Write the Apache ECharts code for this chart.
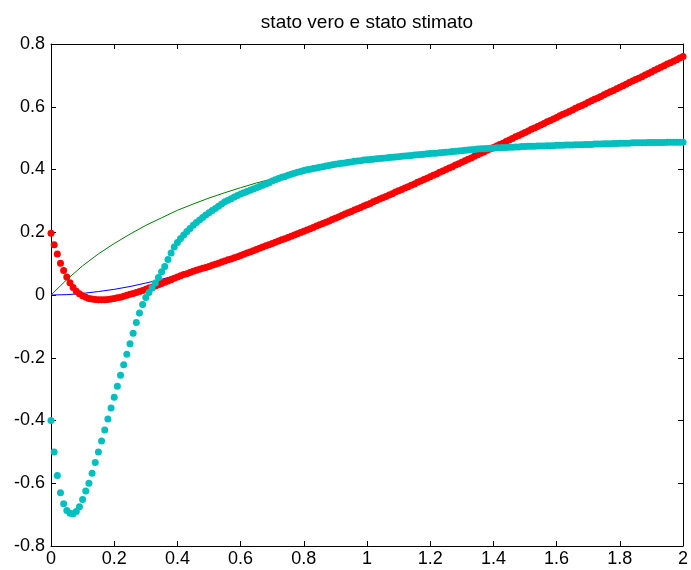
<!DOCTYPE html>
<html>
<head>
    <meta charset="UTF-8">
    <title>stato vero e stato stimato</title>
    <script src="https://cdn.jsdelivr.net/npm/echarts@6/dist/echarts.min.js"></script>
    <style>
        html, body { margin: 0; padding: 0; background: #fff; }
        #chart { width: 691px; height: 570px; }
    </style>
</head>
<body>
<div id="chart"></div>
<script>
// sample times of the estimates (dt = 0.01)
var tEst = [
 0.00,0.01,0.02,0.03,0.04,0.05,0.06,0.07,0.08,0.09,
 0.10,0.11,0.12,0.13,0.14,0.15,0.16,0.17,0.18,0.19,
 0.20,0.21,0.22,0.23,0.24,0.25,0.26,0.27,0.28,0.29,
 0.30,0.31,0.32,0.33,0.34,0.35,0.36,0.37,0.38,0.39,
 0.40,0.41,0.42,0.43,0.44,0.45,0.46,0.47,0.48,0.49,
 0.50,0.51,0.52,0.53,0.54,0.55,0.56,0.57,0.58,0.59,
 0.60,0.61,0.62,0.63,0.64,0.65,0.66,0.67,0.68,0.69,
 0.70,0.71,0.72,0.73,0.74,0.75,0.76,0.77,0.78,0.79,
 0.80,0.81,0.82,0.83,0.84,0.85,0.86,0.87,0.88,0.89,
 0.90,0.91,0.92,0.93,0.94,0.95,0.96,0.97,0.98,0.99,
 1.00,1.01,1.02,1.03,1.04,1.05,1.06,1.07,1.08,1.09,
 1.10,1.11,1.12,1.13,1.14,1.15,1.16,1.17,1.18,1.19,
 1.20,1.21,1.22,1.23,1.24,1.25,1.26,1.27,1.28,1.29,
 1.30,1.31,1.32,1.33,1.34,1.35,1.36,1.37,1.38,1.39,
 1.40,1.41,1.42,1.43,1.44,1.45,1.46,1.47,1.48,1.49,
 1.50,1.51,1.52,1.53,1.54,1.55,1.56,1.57,1.58,1.59,
 1.60,1.61,1.62,1.63,1.64,1.65,1.66,1.67,1.68,1.69,
 1.70,1.71,1.72,1.73,1.74,1.75,1.76,1.77,1.78,1.79,
 1.80,1.81,1.82,1.83,1.84,1.85,1.86,1.87,1.88,1.89,
 1.90,1.91,1.92,1.93,1.94,1.95,1.96,1.97,1.98,1.99,
 2.00
];

// estimated state 1 (red dots)
var x1Est = [
 0.197,0.160,0.131,0.101,0.078,0.057,0.039,0.024,0.012,0.004,
 -0.002,-0.007,-0.011,-0.013,-0.014,-0.015,-0.015,-0.015,-0.014,-0.013,
 -0.011,-0.009,-0.007,-0.004,-0.001,0.002,0.005,0.008,0.011,0.014,
 0.018,0.022,0.025,0.029,0.033,0.037,0.041,0.045,0.049,0.053,
 0.057,0.061,0.065,0.068,0.072,0.076,0.079,0.082,0.085,0.088,
 0.091,0.095,0.098,0.101,0.105,0.108,0.112,0.115,0.119,0.122,
 0.126,0.130,0.134,0.137,0.141,0.145,0.149,0.153,0.157,0.160,
 0.164,0.168,0.172,0.176,0.179,0.183,0.187,0.191,0.195,0.199,
 0.203,0.207,0.211,0.215,0.220,0.224,0.228,0.232,0.236,0.241,
 0.245,0.249,0.253,0.258,0.262,0.266,0.271,0.275,0.279,0.284,
 0.288,0.292,0.297,0.301,0.306,0.310,0.314,0.319,0.323,0.328,
 0.332,0.336,0.341,0.345,0.350,0.354,0.359,0.363,0.368,0.372,
 0.377,0.382,0.386,0.391,0.395,0.400,0.405,0.409,0.414,0.418,
 0.423,0.428,0.433,0.437,0.442,0.447,0.452,0.456,0.461,0.465,
 0.470,0.475,0.480,0.484,0.489,0.494,0.499,0.504,0.508,0.513,
 0.518,0.523,0.528,0.532,0.537,0.542,0.547,0.552,0.556,0.561,
 0.566,0.571,0.576,0.580,0.585,0.590,0.595,0.600,0.604,0.609,
 0.614,0.619,0.624,0.628,0.633,0.638,0.643,0.648,0.652,0.657,
 0.662,0.667,0.672,0.677,0.682,0.687,0.691,0.696,0.701,0.706,
 0.711,0.716,0.721,0.726,0.731,0.736,0.740,0.745,0.750,0.755,
 0.760
];

// estimated state 2 (cyan dots)
var x2Est = [
 -0.400,-0.500,-0.575,-0.630,-0.665,-0.687,-0.696,-0.697,-0.690,-0.675,
 -0.652,-0.625,-0.600,-0.568,-0.534,-0.500,-0.465,-0.430,-0.395,-0.360,
 -0.326,-0.291,-0.256,-0.222,-0.189,-0.155,-0.122,-0.088,-0.057,-0.030,
 -0.008,0.008,0.022,0.038,0.056,0.074,0.091,0.113,0.134,0.153,
 0.167,0.180,0.191,0.202,0.212,0.222,0.231,0.239,0.247,0.255,
 0.262,0.269,0.276,0.283,0.290,0.297,0.302,0.307,0.312,0.317,
 0.322,0.326,0.330,0.334,0.338,0.342,0.346,0.350,0.354,0.358,
 0.363,0.367,0.371,0.375,0.378,0.382,0.385,0.388,0.391,0.394,
 0.397,0.399,0.401,0.403,0.405,0.407,0.409,0.411,0.413,0.415,
 0.417,0.418,0.420,0.421,0.423,0.424,0.426,0.427,0.428,0.430,
 0.431,0.432,0.433,0.434,0.435,0.436,0.437,0.438,0.439,0.440,
 0.441,0.442,0.443,0.444,0.445,0.446,0.447,0.448,0.449,0.450,
 0.451,0.452,0.452,0.453,0.454,0.455,0.456,0.457,0.458,0.459,
 0.460,0.461,0.462,0.463,0.464,0.465,0.466,0.466,0.467,0.468,
 0.468,0.469,0.469,0.470,0.470,0.471,0.471,0.472,0.472,0.473,
 0.473,0.474,0.474,0.474,0.475,0.475,0.475,0.476,0.476,0.476,
 0.477,0.477,0.477,0.478,0.478,0.478,0.479,0.479,0.479,0.480,
 0.480,0.480,0.481,0.481,0.481,0.482,0.482,0.482,0.483,0.483,
 0.484,0.484,0.484,0.484,0.485,0.485,0.485,0.485,0.485,0.486,
 0.486,0.486,0.486,0.486,0.486,0.487,0.487,0.487,0.487,0.487,
 0.487
];

// true states, sampled every 0.05
var tTrue = [
 0.00,0.05,0.10,0.15,0.20,0.25,0.30,0.35,0.40,0.45,
 0.50,0.55,0.60,0.65,0.70,0.75,0.80,0.85,0.90,0.95,
 1.00,1.05,1.10,1.15,1.20,1.25,1.30,1.35,1.40,1.45,
 1.50,1.55,1.60,1.65,1.70,1.75,1.80,1.85,1.90,1.95,
 2.00
];
var x1True = [
 0.000,0.001,0.005,0.011,0.018,0.027,0.038,0.050,0.064,0.078,
 0.094,0.110,0.128,0.146,0.164,0.184,0.204,0.224,0.245,0.266,
 0.288,0.310,0.332,0.355,0.377,0.400,0.424,0.447,0.470,0.494,
 0.518,0.542,0.566,0.590,0.614,0.638,0.663,0.687,0.711,0.736,
 0.760
];
var x2True = [
 0.000,0.049,0.093,0.131,0.164,0.194,0.222,0.246,0.270,0.290,
 0.309,0.326,0.342,0.357,0.370,0.383,0.396,0.406,0.416,0.424,
 0.432,0.438,0.444,0.449,0.454,0.458,0.462,0.466,0.469,0.472,
 0.475,0.477,0.479,0.481,0.483,0.484,0.485,0.486,0.487,0.488,
 0.489
];

var xTicks = { min: 0, max: 2, interval: 0.2 };
var yTicks = { min: -0.8, max: 0.8, interval: 0.2 };

function pairs(t, v) {
    var out = [];
    for (var i = 0; i < v.length; i++) out.push([t[i], v[i]]);
    return out;
}

var font = '"Liberation Sans", Arial, Helvetica, sans-serif';
var axisBase = {
    type: 'value',
    axisLine: { show: true, onZero: false, lineStyle: { color: '#000', width: 1 } },
    axisTick: { show: true, inside: true, length: 5, lineStyle: { color: '#000' } },
    splitLine: { show: false },
    axisLabel: { color: '#000', fontSize: 18, fontFamily: font }
};

var chart = echarts.init(document.getElementById('chart'), null, { renderer: 'canvas' });
chart.setOption({
    animation: false,
    backgroundColor: '#fff',
    title: {
        text: 'stato vero e stato stimato',
        left: 367, top: 13, textAlign: 'center', padding: 0,
        textStyle: { color: '#000', fontSize: 19, fontWeight: 'normal', fontFamily: font }
    },
    grid: { left: 51, right: 3, top: 44, bottom: 24, containLabel: false },
    xAxis: [
        Object.assign({}, axisBase, xTicks, { position: 'bottom',
            axisLabel: Object.assign({}, axisBase.axisLabel,
                { margin: 4, alignMaxLabel: 'center', alignMinLabel: 'center' }) }),
        Object.assign({}, axisBase, xTicks, { position: 'top', axisLabel: { show: false } })
    ],
    yAxis: [
        Object.assign({}, axisBase, yTicks, { position: 'left',
            axisLabel: Object.assign({}, axisBase.axisLabel, { margin: 6 }) }),
        Object.assign({}, axisBase, yTicks, { position: 'right', axisLabel: { show: false } })
    ],
    series: [
        { type: 'line', data: pairs(tTrue, x1True), showSymbol: false, z: 2,
          lineStyle: { color: '#0000ff', width: 1 } },
        { type: 'line', data: pairs(tTrue, x2True), showSymbol: false, z: 2,
          lineStyle: { color: '#008000', width: 1 } },
        { type: 'scatter', data: pairs(tEst, x1Est), symbolSize: 7, z: 3,
          itemStyle: { color: '#ff0000', opacity: 1 } },
        { type: 'scatter', data: pairs(tEst, x2Est), symbolSize: 7, z: 4,
          itemStyle: { color: '#00bfbf', opacity: 1 } }
    ]
});
</script>
</body>
</html>
